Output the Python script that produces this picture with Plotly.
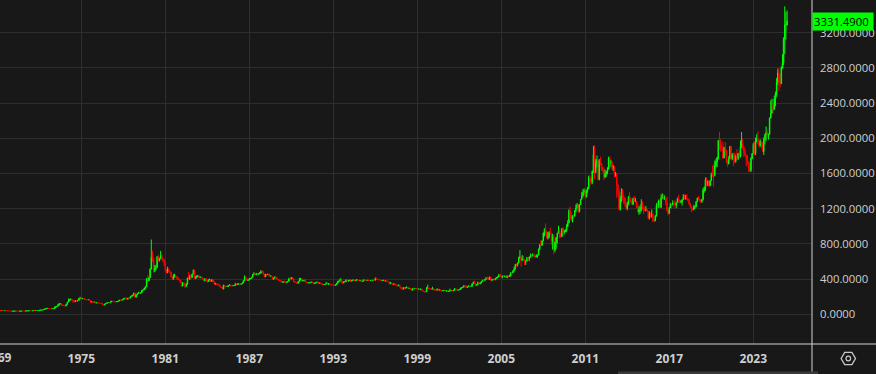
import pandas as pd
import plotly.graph_objects as go

# ---------------- data (monthly gold, USD/oz) ----------------
start_month = "1969-01-01"
first_open = 41.9  # close of the month before the first candle

close_prices = [
    # 1969
    42.6, 42.9, 43.4, 43.3, 43.5, 41.2, 42.3, 41.0, 40.8, 40.0, 36.8, 35.2,
    # 1970
    34.9, 35.0, 35.9, 35.9, 36.0, 35.4, 35.3, 35.4, 36.2, 37.5, 37.4, 37.4,
    # 1971
    38.0, 38.8, 38.9, 39.5, 40.5, 40.1, 41.0, 42.7, 42.0, 42.5, 42.9, 43.5,
    # 1972
    45.8, 48.3, 48.3, 49.0, 54.6, 64.9, 67.0, 67.0, 65.5, 64.9, 62.9, 63.9,
    # 1973
    65.1, 74.2, 84.4, 90.5, 102.0, 120.1, 120.2, 106.8, 103.0, 100.1, 94.8, 112.3,
    # 1974
    139.3, 150.2, 168.4, 172.2, 163.3, 154.1, 143.0, 154.6, 151.8, 158.8, 181.7, 186.5,
    # 1975
    175.8, 181.8, 178.2, 167.0, 167.0, 166.3, 166.7, 159.8, 141.3, 142.9, 138.2, 140.3,
    # 1976
    128.2, 132.3, 129.6, 128.4, 126.8, 123.8, 112.5, 104.0, 116.0, 123.2, 130.3, 134.5,
    # 1977
    132.3, 142.8, 148.9, 147.3, 143.0, 140.8, 144.1, 145.0, 154.1, 161.5, 160.5, 164.95,
    # 1978
    175.3, 182.3, 181.6, 170.9, 184.0, 183.1, 200.3, 208.7, 217.1, 242.6, 193.4, 226.0,
    # 1979
    233.7, 251.3, 240.1, 245.3, 274.6, 277.5, 296.5, 315.1, 397.3, 382.0, 415.7, 512.0,
    # 1980
    653.0, 637.0, 494.5, 518.0, 535.5, 653.5, 614.3, 631.3, 666.8, 629.0, 619.8, 589.8,
    # 1981
    506.5, 489.0, 513.8, 482.8, 479.3, 426.0, 406.0, 425.5, 428.8, 427.0, 414.5, 397.5,
    # 1982
    387.0, 362.6, 320.0, 361.3, 325.3, 317.5, 342.9, 411.5, 397.0, 423.3, 416.8, 456.9,
    # 1983
    499.5, 408.5, 414.8, 429.3, 437.5, 416.0, 422.0, 414.3, 405.0, 382.0, 405.0, 381.5,
    # 1984
    370.8, 394.3, 394.3, 373.8, 393.4, 373.8, 342.4, 348.3, 343.8, 333.5, 329.0, 309.0,
    # 1985
    306.7, 287.8, 329.3, 321.4, 316.8, 317.8, 327.5, 333.3, 326.5, 325.1, 325.3, 326.8,
    # 1986
    345.5, 338.2, 344.0, 345.8, 343.2, 345.5, 357.5, 384.7, 423.2, 401.0, 383.5, 390.9,
    # 1987
    405.9, 407.7, 421.3, 451.0, 456.2, 447.3, 462.5, 456.0, 459.5, 466.0, 492.5, 484.1,
    # 1988
    458.0, 426.2, 456.9, 449.0, 455.5, 436.6, 436.8, 427.8, 397.7, 412.4, 422.6, 410.2,
    # 1989
    394.0, 387.0, 383.2, 377.6, 361.8, 373.0, 368.3, 359.8, 366.5, 375.3, 408.2, 401.0,
    # 1990
    415.1, 407.7, 368.5, 367.8, 363.1, 352.2, 372.3, 387.8, 408.4, 379.5, 384.9, 386.2,
    # 1991
    366.0, 362.7, 355.7, 357.8, 360.4, 368.4, 362.9, 347.4, 354.9, 357.5, 366.3, 353.2,
    # 1992
    354.1, 353.1, 341.7, 336.4, 337.5, 343.4, 357.9, 340.0, 349.0, 339.3, 333.9, 333.3,
    # 1993
    330.5, 327.6, 337.8, 354.3, 377.5, 378.5, 401.8, 371.6, 355.5, 369.6, 370.9, 391.8,
    # 1994
    378.0, 381.6, 389.2, 376.5, 387.6, 388.3, 384.0, 385.8, 394.9, 389.1, 383.1, 383.3,
    # 1995
    374.9, 376.4, 392.0, 389.8, 384.3, 387.1, 383.4, 382.4, 384.0, 382.7, 387.8, 387.0,
    # 1996
    405.6, 400.7, 396.4, 391.3, 390.6, 382.0, 385.3, 386.5, 379.0, 379.5, 371.3, 369.3,
    # 1997
    345.5, 358.6, 348.2, 340.2, 345.6, 334.6, 326.4, 325.4, 332.1, 311.4, 296.8, 290.2,
    # 1998
    304.9, 297.4, 301.0, 310.7, 293.6, 296.3, 288.9, 273.4, 293.9, 292.3, 294.7, 287.8,
    # 1999
    287.1, 287.3, 279.5, 286.6, 268.6, 261.0, 255.6, 254.8, 299.0, 299.1, 291.4, 290.3,
    # 2000
    283.3, 293.7, 276.8, 275.1, 272.3, 288.2, 276.8, 277.0, 273.7, 264.5, 269.1, 272.7,
    # 2001
    264.5, 266.7, 257.7, 263.2, 267.5, 270.6, 265.9, 273.0, 293.1, 278.8, 275.5, 276.5,
    # 2002
    282.3, 296.9, 301.4, 308.2, 326.6, 318.5, 304.7, 312.8, 323.7, 316.9, 319.1, 347.2,
    # 2003
    367.5, 347.5, 334.9, 336.8, 361.4, 346.0, 354.8, 375.6, 388.0, 386.3, 398.4, 416.3,
    # 2004
    399.8, 395.9, 423.7, 388.5, 393.3, 395.8, 391.4, 407.3, 415.7, 425.6, 453.4, 435.6,
    # 2005
    422.2, 435.5, 427.5, 435.7, 414.5, 437.1, 429.0, 433.3, 473.3, 470.8, 495.7, 513.0,
    # 2006
    568.8, 556.0, 582.0, 644.0, 653.0, 613.5, 632.5, 623.5, 599.3, 603.8, 646.7, 632.0,
    # 2007
    650.5, 664.2, 661.8, 677.0, 659.1, 650.5, 665.5, 672.0, 743.0, 789.5, 783.5, 833.8,
    # 2008
    923.3, 971.5, 933.5, 871.0, 885.8, 930.3, 918.0, 833.0, 884.5, 730.8, 814.5, 869.8,
    # 2009
    919.5, 952.0, 916.5, 883.3, 975.5, 934.5, 939.0, 955.5, 995.8, 1040.0, 1175.8, 1087.5,
    # 2010
    1083.0, 1118.5, 1113.3, 1179.3, 1207.5, 1244.0, 1169.0, 1246.0, 1307.0, 1346.8, 1386.0, 1405.5,
    # 2011
    1333.8, 1411.0, 1439.0, 1556.0, 1536.5, 1505.5, 1628.5, 1813.5, 1620.0, 1722.0, 1746.0, 1531.0,
    # 2012
    1744.0, 1711.0, 1662.5, 1651.3, 1558.0, 1598.5, 1622.0, 1648.5, 1776.0, 1719.0, 1726.0, 1657.5,
    # 2013
    1664.8, 1588.5, 1598.3, 1469.0, 1394.5, 1192.0, 1314.5, 1394.8, 1326.5, 1324.0, 1253.0, 1204.5,
    # 2014
    1244.8, 1326.5, 1291.8, 1288.5, 1250.5, 1315.0, 1285.3, 1285.8, 1216.5, 1164.3, 1182.8, 1199.3,
    # 2015
    1260.3, 1214.0, 1187.0, 1180.3, 1189.0, 1171.0, 1098.4, 1135.0, 1114.0, 1142.4, 1061.9, 1060.3,
    # 2016
    1116.4, 1238.0, 1232.7, 1290.5, 1217.8, 1320.8, 1349.0, 1309.3, 1322.5, 1272.0, 1178.1, 1145.9,
    # 2017
    1212.8, 1251.9, 1244.9, 1266.5, 1266.2, 1242.3, 1267.6, 1311.8, 1283.1, 1270.2, 1274.8, 1302.5,
    # 2018
    1339.0, 1317.9, 1325.5, 1315.4, 1298.3, 1250.5, 1223.6, 1201.0, 1191.5, 1214.9, 1222.2, 1279.0,
    # 2019
    1321.0, 1313.2, 1292.3, 1283.5, 1305.6, 1409.0, 1427.6, 1528.4, 1472.9, 1512.9, 1464.1, 1517.3,
    # 2020
    1587.9, 1585.7, 1577.2, 1686.3, 1730.3, 1780.9, 1975.9, 1967.8, 1886.9, 1879.9, 1776.5, 1898.4,
    # 2021
    1847.7, 1734.0, 1707.7, 1768.9, 1906.9, 1770.1, 1814.2, 1813.6, 1742.8, 1783.4, 1774.5, 1828.6,
    # 2022
    1796.6, 1908.9, 1937.4, 1896.9, 1837.7, 1807.3, 1765.9, 1711.0, 1660.6, 1633.6, 1768.5, 1824.0,
    # 2023
    1928.4, 1826.9, 1969.3, 1990.0, 1962.7, 1919.4, 1965.1, 1940.2, 1848.6, 1983.9, 2036.4, 2062.6,
    # 2024
    2039.5, 2044.3, 2229.9, 2286.3, 2327.3, 2326.8, 2447.6, 2503.4, 2634.6, 2744.0, 2643.2, 2624.5,
    # 2025
    2798.4, 2857.8, 3123.6, 3288.7, 3289.3, 3331.49,
]

high_prices = [
    # 1969
    42.8, 43.2, 43.8, 43.6, 43.8, 43.6, 42.6, 42.4, 41.2, 41.0, 40.1, 36.9,
    # 1970
    35.4, 35.2, 36.1, 36.2, 36.3, 36.0, 35.6, 35.6, 36.4, 37.8, 37.7, 37.6,
    # 1971
    38.2, 39.0, 39.2, 39.9, 40.9, 40.6, 41.2, 43.0, 42.8, 42.7, 43.1, 43.7,
    # 1972
    46.3, 49.2, 48.9, 49.8, 56.0, 65.4, 70.0, 68.5, 67.3, 65.8, 65.0, 65.2,
    # 1973
    66.4, 88.0, 90.0, 92.8, 118.0, 126.5, 127.0, 120.3, 107.0, 104.0, 101.0, 112.4,
    # 1974
    139.5, 179.5, 172.5, 179.5, 172.5, 163.3, 155.0, 155.5, 156.3, 158.8, 184.0, 197.5,
    # 1975
    187.0, 184.3, 181.8, 178.3, 172.5, 167.5, 167.3, 166.8, 159.8, 143.3, 144.3, 140.8,
    # 1976
    140.3, 133.0, 133.3, 130.0, 128.5, 127.3, 124.0, 112.8, 117.3, 124.0, 131.3, 134.8,
    # 1977
    136.3, 143.3, 150.0, 150.5, 148.0, 143.3, 145.5, 146.3, 155.5, 164.5, 163.5, 166.0,
    # 1978
    177.0, 186.0, 190.0, 182.0, 184.8, 187.0, 200.3, 215.8, 220.0, 243.7, 245.0, 227.0,
    # 1979
    237.5, 255.0, 252.5, 246.5, 276.0, 281.0, 304.0, 315.1, 412.0, 447.0, 418.0, 524.0,
    # 1980
    850.0, 722.0, 641.0, 560.0, 561.0, 660.0, 676.0, 643.0, 720.0, 679.0, 643.0, 626.0,
    # 1981
    600.0, 510.0, 540.0, 524.0, 496.0, 480.0, 428.0, 456.0, 460.0, 447.0, 431.0, 417.0,
    # 1982
    400.0, 391.0, 364.0, 364.0, 362.0, 330.0, 354.0, 418.0, 481.0, 450.0, 440.0, 457.0,
    # 1983
    509.0, 510.0, 434.0, 445.0, 445.0, 438.0, 430.0, 426.0, 417.0, 406.0, 405.0, 405.0,
    # 1984
    386.0, 394.3, 406.0, 395.0, 397.0, 394.0, 375.0, 357.0, 352.0, 345.0, 350.0, 330.0,
    # 1985
    312.0, 308.0, 338.0, 333.0, 323.0, 318.0, 328.0, 343.0, 335.0, 330.0, 331.0, 330.0,
    # 1986
    358.0, 350.0, 350.0, 348.0, 346.0, 347.0, 359.0, 386.0, 442.8, 432.0, 411.0, 392.0,
    # 1987
    410.0, 412.0, 422.0, 460.0, 479.0, 458.0, 471.0, 468.0, 462.0, 481.0, 499.8, 499.0,
    # 1988
    486.0, 458.0, 458.0, 459.0, 457.0, 462.0, 441.0, 440.0, 429.0, 414.0, 431.0, 424.0,
    # 1989
    411.0, 397.0, 396.0, 386.0, 379.0, 374.0, 383.0, 372.0, 368.0, 378.0, 414.0, 418.0,
    # 1990
    424.0, 421.0, 409.0, 375.0, 373.0, 367.0, 373.0, 416.0, 410.0, 409.0, 389.0, 387.0,
    # 1991
    403.0, 369.0, 364.0, 360.0, 361.0, 370.0, 369.0, 363.0, 356.0, 361.0, 370.0, 367.0,
    # 1992
    358.0, 359.0, 354.0, 342.0, 339.0, 344.0, 363.0, 359.0, 350.0, 350.0, 340.0, 336.0,
    # 1993
    334.0, 331.0, 339.0, 358.0, 379.0, 385.0, 409.0, 406.0, 373.0, 372.0, 381.0, 392.0,
    # 1994
    396.0, 386.0, 392.0, 392.0, 389.0, 395.0, 389.0, 387.0, 398.0, 397.0, 390.0, 384.0,
    # 1995
    384.0, 380.0, 392.0, 396.0, 391.0, 389.0, 388.0, 387.0, 386.0, 386.0, 389.0, 388.0,
    # 1996
    418.0, 416.0, 401.0, 397.0, 395.0, 391.0, 390.0, 389.0, 387.0, 385.0, 383.0, 372.0,
    # 1997
    370.0, 365.0, 360.0, 349.0, 349.0, 346.0, 335.0, 329.0, 337.0, 333.0, 312.0, 300.0,
    # 1998
    308.0, 306.0, 302.0, 314.0, 312.0, 298.0, 297.0, 289.0, 299.0, 302.0, 298.0, 297.0,
    # 1999
    292.0, 290.0, 289.0, 291.0, 290.0, 270.0, 263.0, 258.0, 311.0, 338.0, 300.0, 293.0,
    # 2000
    293.0, 313.0, 294.0, 283.0, 278.0, 293.0, 290.0, 280.0, 278.0, 274.0, 271.0, 276.0,
    # 2001
    273.0, 268.0, 268.0, 264.0, 292.0, 275.0, 271.0, 277.0, 294.0, 294.0, 279.0, 281.0,
    # 2002
    284.0, 302.0, 304.0, 310.0, 327.0, 330.0, 324.0, 315.0, 325.0, 325.0, 320.0, 349.0,
    # 2003
    372.0, 383.0, 355.0, 341.0, 371.0, 366.0, 361.0, 377.0, 390.0, 394.0, 399.0, 417.0,
    # 2004
    427.0, 418.0, 428.0, 427.0, 396.0, 404.0, 409.0, 415.0, 418.0, 433.0, 456.0, 457.0,
    # 2005
    437.0, 438.0, 446.0, 437.0, 437.0, 442.0, 439.0, 449.0, 475.0, 478.0, 497.0, 540.0,
    # 2006
    571.0, 573.0, 587.0, 654.0, 730.0, 660.0, 673.0, 663.0, 627.0, 610.0, 650.0, 650.0,
    # 2007
    656.0, 691.0, 673.0, 693.0, 688.0, 669.0, 683.0, 674.0, 744.0, 795.0, 845.0, 838.0,
    # 2008
    930.0, 975.0, 1032.0, 950.0, 935.0, 945.0, 988.0, 918.0, 915.0, 904.0, 825.0, 880.0,
    # 2009
    927.0, 1006.0, 960.0, 920.0, 981.0, 990.0, 960.0, 966.0, 1024.0, 1070.0, 1195.0, 1226.0,
    # 2010
    1161.0, 1127.0, 1139.0, 1183.0, 1249.0, 1265.0, 1246.0, 1250.0, 1310.0, 1388.0, 1424.0, 1431.0,
    # 2011
    1424.0, 1412.0, 1447.0, 1576.0, 1577.0, 1553.0, 1632.0, 1913.0, 1921.0, 1764.0, 1804.0, 1764.0,
    # 2012
    1764.0, 1791.0, 1720.0, 1677.0, 1670.0, 1641.0, 1628.0, 1671.0, 1790.0, 1798.0, 1755.0, 1727.0,
    # 2013
    1695.0, 1683.0, 1617.0, 1605.0, 1487.0, 1424.0, 1348.0, 1433.0, 1424.0, 1361.0, 1330.0, 1267.0,
    # 2014
    1280.0, 1345.0, 1392.0, 1331.0, 1315.0, 1326.0, 1345.0, 1324.0, 1287.0, 1255.0, 1225.0, 1239.0,
    # 2015
    1307.0, 1284.0, 1224.0, 1224.0, 1232.0, 1205.0, 1175.0, 1170.0, 1157.0, 1191.0, 1143.0, 1088.0,
    # 2016
    1128.0, 1263.0, 1287.0, 1304.0, 1305.0, 1362.0, 1375.0, 1367.0, 1352.0, 1325.0, 1337.0, 1181.0,
    # 2017
    1220.0, 1264.0, 1261.0, 1295.0, 1271.0, 1296.0, 1270.0, 1326.0, 1358.0, 1306.0, 1299.0, 1306.0,
    # 2018
    1366.0, 1361.0, 1356.0, 1366.0, 1317.0, 1309.0, 1266.0, 1225.0, 1214.0, 1243.0, 1238.0, 1284.0,
    # 2019
    1326.0, 1346.0, 1324.0, 1300.0, 1306.0, 1439.0, 1452.0, 1555.0, 1557.0, 1519.0, 1516.0, 1524.0,
    # 2020
    1611.0, 1689.0, 1704.0, 1747.0, 1765.0, 1789.0, 1981.0, 2075.0, 1992.0, 1933.0, 1965.0, 1900.0,
    # 2021
    1959.0, 1871.0, 1755.0, 1798.0, 1913.0, 1916.0, 1832.0, 1834.0, 1836.0, 1814.0, 1877.0, 1831.0,
    # 2022
    1853.0, 1976.0, 2070.0, 1998.0, 1910.0, 1879.0, 1814.0, 1808.0, 1735.0, 1729.0, 1786.0, 1833.0,
    # 2023
    1949.0, 1960.0, 2009.0, 2048.0, 2079.0, 1983.0, 1987.0, 1966.0, 1953.0, 2009.0, 2052.0, 2135.0,
    # 2024
    2088.0, 2052.0, 2236.0, 2431.0, 2450.0, 2388.0, 2484.0, 2531.0, 2686.0, 2790.0, 2801.0, 2726.0,
    # 2025
    2817.0, 2956.0, 3148.0, 3500.0, 3435.0, 3452.0,
]

low_prices = [
    # 1969
    41.6, 42.4, 42.8, 42.9, 43.0, 40.9, 41.0, 40.8, 40.4, 39.8, 36.2, 34.9,
    # 1970
    34.8, 34.8, 34.9, 35.6, 35.7, 35.3, 35.1, 35.2, 35.3, 36.2, 37.1, 37.2,
    # 1971
    37.3, 37.9, 38.6, 38.8, 39.4, 39.9, 40.0, 40.8, 41.9, 41.9, 42.3, 42.8,
    # 1972
    43.4, 45.6, 47.6, 48.2, 49.0, 54.5, 64.5, 65.0, 64.3, 63.9, 62.4, 62.8,
    # 1973
    63.6, 64.8, 74.0, 84.0, 90.0, 102.0, 114.5, 96.0, 97.8, 96.5, 90.0, 92.5,
    # 1974
    112.3, 138.0, 148.5, 162.0, 152.0, 129.0, 139.3, 142.0, 148.5, 146.0, 158.5, 170.0,
    # 1975
    168.0, 172.0, 174.5, 165.3, 160.5, 161.0, 164.5, 149.3, 128.8, 137.3, 136.8, 136.3,
    # 1976
    125.0, 126.3, 126.0, 126.0, 124.5, 122.8, 110.0, 103.0, 104.0, 114.0, 122.0, 129.5,
    # 1977
    129.0, 131.3, 142.0, 145.3, 142.0, 139.8, 140.3, 143.3, 145.0, 153.0, 158.5, 158.0,
    # 1978
    164.0, 174.0, 177.0, 169.0, 169.5, 179.0, 182.0, 197.0, 202.0, 216.0, 193.4, 193.0,
    # 1979
    216.0, 233.0, 236.0, 232.0, 245.0, 270.0, 277.0, 282.0, 315.0, 355.0, 377.0, 412.0,
    # 1980
    512.0, 597.0, 474.0, 478.0, 500.0, 529.0, 602.0, 599.0, 630.0, 620.0, 597.0, 547.0,
    # 1981
    480.0, 460.0, 468.0, 480.0, 460.0, 420.0, 391.0, 392.0, 418.0, 422.0, 392.0, 391.0,
    # 1982
    373.0, 362.0, 310.0, 320.0, 323.0, 296.8, 315.0, 334.0, 395.0, 396.0, 405.0, 416.0,
    # 1983
    455.0, 404.0, 400.0, 411.0, 425.0, 410.0, 415.0, 408.0, 396.0, 375.0, 375.0, 375.0,
    # 1984
    362.0, 368.0, 383.0, 369.0, 370.0, 370.0, 339.0, 340.0, 336.0, 333.0, 325.0, 307.0,
    # 1985
    298.0, 284.0, 284.0, 318.0, 309.0, 310.0, 312.0, 326.0, 315.0, 320.0, 321.0, 320.0,
    # 1986
    326.0, 334.0, 332.0, 336.0, 337.0, 337.0, 343.0, 355.0, 381.0, 400.0, 382.0, 380.0,
    # 1987
    390.0, 396.0, 404.0, 418.0, 445.0, 445.0, 447.0, 450.0, 454.0, 455.0, 464.0, 480.0,
    # 1988
    455.0, 423.0, 425.0, 445.0, 447.0, 436.0, 427.0, 426.0, 395.0, 397.0, 410.0, 408.0,
    # 1989
    392.0, 382.0, 380.0, 375.0, 358.0, 358.0, 366.0, 356.0, 355.0, 364.0, 374.0, 398.0,
    # 1990
    399.0, 400.0, 368.0, 364.0, 359.0, 345.0, 351.0, 371.0, 385.0, 379.0, 376.0, 374.0,
    # 1991
    364.0, 357.0, 352.0, 354.0, 353.0, 359.0, 361.0, 346.0, 346.0, 354.0, 356.0, 352.0,
    # 1992
    350.0, 351.0, 341.0, 335.0, 333.0, 336.0, 343.0, 339.0, 339.0, 338.0, 331.0, 331.0,
    # 1993
    327.0, 326.0, 326.0, 336.0, 354.0, 366.0, 378.0, 355.0, 343.0, 355.0, 367.0, 368.0,
    # 1994
    373.0, 374.0, 380.0, 371.0, 375.0, 382.0, 380.0, 376.0, 384.0, 387.0, 381.0, 375.0,
    # 1995
    373.0, 372.0, 376.0, 388.0, 383.0, 381.0, 381.0, 380.0, 381.0, 381.0, 382.0, 384.0,
    # 1996
    387.0, 397.0, 394.0, 389.0, 389.0, 381.0, 381.0, 385.0, 377.0, 377.0, 370.0, 366.0,
    # 1997
    344.0, 343.0, 345.0, 337.0, 338.0, 334.0, 318.0, 320.0, 320.0, 306.0, 290.0, 283.0,
    # 1998
    278.0, 291.0, 293.0, 299.0, 292.0, 287.0, 287.0, 272.0, 272.0, 289.0, 290.0, 286.0,
    # 1999
    285.0, 285.0, 278.0, 279.0, 268.0, 257.0, 252.0, 251.0, 253.0, 294.0, 289.0, 279.0,
    # 2000
    281.0, 282.0, 276.0, 274.0, 270.0, 272.0, 275.0, 271.0, 270.0, 263.0, 263.0, 267.0,
    # 2001
    263.0, 255.0, 256.0, 255.0, 262.0, 265.0, 265.0, 265.0, 271.0, 277.0, 273.0, 271.0,
    # 2002
    276.0, 281.0, 290.0, 299.0, 307.0, 315.0, 302.0, 301.0, 311.0, 313.0, 315.0, 317.0,
    # 2003
    343.0, 344.0, 322.0, 320.0, 336.0, 342.0, 343.0, 354.0, 374.0, 370.0, 381.0, 398.0,
    # 2004
    397.0, 391.0, 391.0, 384.0, 376.0, 388.0, 389.0, 390.0, 401.0, 413.0, 423.0, 430.0,
    # 2005
    414.0, 410.0, 423.0, 425.0, 414.0, 414.0, 417.0, 428.0, 432.0, 457.0, 467.0, 488.0,
    # 2006
    513.0, 540.0, 544.0, 580.0, 633.0, 543.0, 605.0, 610.0, 560.0, 561.0, 603.0, 610.0,
    # 2007
    603.0, 647.0, 636.0, 661.0, 653.0, 641.0, 650.0, 641.0, 672.0, 727.0, 777.0, 780.0,
    # 2008
    833.0, 885.0, 902.0, 860.0, 850.0, 862.0, 910.0, 786.0, 735.0, 681.0, 705.0, 744.0,
    # 2009
    802.0, 918.0, 864.0, 866.0, 883.0, 915.0, 908.0, 931.0, 933.0, 995.0, 1035.0, 1075.0,
    # 2010
    1058.0, 1045.0, 1087.0, 1112.0, 1156.0, 1203.0, 1155.0, 1157.0, 1242.0, 1306.0, 1331.0, 1360.0,
    # 2011
    1309.0, 1329.0, 1380.0, 1419.0, 1462.0, 1478.0, 1478.0, 1604.0, 1535.0, 1602.0, 1667.0, 1523.0,
    # 2012
    1523.0, 1693.0, 1627.0, 1613.0, 1527.0, 1548.0, 1564.0, 1589.0, 1645.0, 1697.0, 1672.0, 1636.0,
    # 2013
    1626.0, 1555.0, 1564.0, 1321.0, 1338.0, 1180.0, 1180.0, 1271.0, 1291.0, 1251.0, 1221.0, 1187.0,
    # 2014
    1182.0, 1239.0, 1277.0, 1268.0, 1240.0, 1240.0, 1281.0, 1272.0, 1206.0, 1161.0, 1131.0, 1142.0,
    # 2015
    1167.0, 1191.0, 1142.0, 1175.0, 1170.0, 1162.0, 1077.0, 1077.0, 1098.0, 1098.0, 1046.0, 1046.0,
    # 2016
    1060.0, 1110.0, 1208.0, 1208.0, 1200.0, 1208.0, 1310.0, 1302.0, 1301.0, 1241.0, 1171.0, 1123.0,
    # 2017
    1145.0, 1209.0, 1195.0, 1240.0, 1214.0, 1236.0, 1205.0, 1266.0, 1273.0, 1261.0, 1265.0, 1236.0,
    # 2018
    1302.0, 1307.0, 1303.0, 1302.0, 1281.0, 1246.0, 1211.0, 1160.0, 1180.0, 1182.0, 1196.0, 1221.0,
    # 2019
    1275.0, 1303.0, 1281.0, 1266.0, 1266.0, 1296.0, 1381.0, 1400.0, 1459.0, 1458.0, 1445.0, 1455.0,
    # 2020
    1517.0, 1563.0, 1451.0, 1567.0, 1670.0, 1671.0, 1757.0, 1863.0, 1849.0, 1860.0, 1764.0, 1776.0,
    # 2021
    1802.0, 1717.0, 1677.0, 1705.0, 1766.0, 1750.0, 1751.0, 1688.0, 1721.0, 1722.0, 1762.0, 1753.0,
    # 2022
    1780.0, 1780.0, 1890.0, 1872.0, 1787.0, 1805.0, 1681.0, 1710.0, 1615.0, 1617.0, 1616.0, 1765.0,
    # 2023
    1823.0, 1805.0, 1809.0, 1950.0, 1932.0, 1893.0, 1903.0, 1885.0, 1846.0, 1811.0, 1931.0, 1973.0,
    # 2024
    2002.0, 1984.0, 2039.0, 2229.0, 2278.0, 2286.0, 2353.0, 2364.0, 2472.0, 2604.0, 2537.0, 2583.0,
    # 2025
    2614.0, 2790.0, 2832.0, 2957.0, 3121.0, 3280.0,
]

year_ticks = [1969, 1975, 1981, 1987, 1993, 1999, 2005, 2011, 2017, 2023]
price_ticks = [0, 400, 800, 1200, 1600, 2000, 2400, 2800, 3200]
last_price = 3331.49

assert len(close_prices) == len(high_prices) == len(low_prices)

dates = pd.date_range(start_month, periods=len(close_prices), freq="MS")
open_prices = [first_open] + close_prices[:-1]

# ---------------- styling ----------------
BG = "#181818"
GRID = "#2e2e2e"
AXIS = "#d2d2d2"
TXT = "#cfcfcf"
UP = "#00ff00"
DOWN = "#ff0000"
FONT = "Open Sans"

W, H = 876, 374
PW, PH = 812, 344  # plot area size in px


def px(x):
    return x / PW


def py(y):
    return (PH - y) / PH


fig = go.Figure(
    go.Candlestick(
        x=dates,
        open=open_prices,
        high=high_prices,
        low=low_prices,
        close=close_prices,
        increasing=dict(line=dict(color=UP, width=1), fillcolor=UP),
        decreasing=dict(line=dict(color=DOWN, width=1), fillcolor=DOWN),
        whiskerwidth=0,
        showlegend=False,
        hoverinfo="skip",
    )
)

# x range: 1975-01-01 sits 81.3 px from the left, 14 px per year
t75 = pd.Timestamp("1975-01-01")
day_px = 14.0 / 365.25
x_start = t75 - pd.Timedelta(days=81.3 / day_px)
x_end = t75 + pd.Timedelta(days=(PW - 81.3) / day_px)

fig.update_xaxes(
    type="date",
    range=[x_start, x_end],
    tickvals=[pd.Timestamp(f"{y}-01-01") for y in year_ticks],
    ticktext=[str(y) for y in year_ticks],
    showgrid=True,
    gridcolor=GRID,
    gridwidth=1,
    zeroline=False,
    showline=False,
    ticks="",
    ticklabelstandoff=6,
    tickfont=dict(family=FONT, size=12, color=TXT, weight="bold"),
    rangeslider=dict(visible=False),
    fixedrange=True,
    automargin=False,
)

fig.update_yaxes(
    side="right",
    range=[-337.5, 3571.6],
    tickvals=price_ticks,
    tickformat=".4f",
    showgrid=True,
    gridcolor=GRID,
    gridwidth=1,
    zeroline=False,
    showline=False,
    ticks="",
    ticklabelstandoff=7,
    tickfont=dict(family=FONT, size=11.3, color=TXT),
    fixedrange=True,
    automargin=False,
)

shapes = [
    # horizontal separator (full width)
    dict(type="line", xref="paper", yref="paper", x0=0, x1=px(W), y0=0, y1=0,
         line=dict(color=AXIS, width=1)),
    # vertical separator (full height)
    dict(type="line", xref="paper", yref="paper", x0=1, x1=1, y0=py(H + 1), y1=py(-1),
         line=dict(color=AXIS, width=1)),
    # scrollbar hint at bottom
    dict(type="rect", xref="paper", yref="paper", x0=px(618), x1=px(818),
         y0=py(374), y1=py(371.5), fillcolor="#3a3a3a", line=dict(width=0)),
]

# settings (hexagon) icon
cx, cy = 848.3, 358.5
hx, hy = 7.2, 6.2
hexpts = [(cx - hx, cy), (cx - hx / 2, cy - hy), (cx + hx / 2, cy - hy),
          (cx + hx, cy), (cx + hx / 2, cy + hy), (cx - hx / 2, cy + hy)]
path = "M " + " L ".join(f"{px(a):.5f},{py(b):.5f}" for a, b in hexpts) + " Z"
shapes.append(dict(type="path", xref="paper", yref="paper", path=path,
                   line=dict(color="#c8c8c8", width=1.3)))
shapes.append(dict(type="circle", xref="paper", yref="paper",
                   x0=px(cx - 2.3), x1=px(cx + 2.3), y0=py(cy + 2.3), y1=py(cy - 2.3),
                   line=dict(color="#c8c8c8", width=1.2)))

fig.update_layout(
    width=W,
    height=H,
    margin=dict(l=0, r=W - PW, t=0, b=H - PH, pad=0, autoexpand=False),
    paper_bgcolor=BG,
    plot_bgcolor=BG,
    shapes=shapes,
    showlegend=False,
    annotations=[
        dict(
            xref="paper", yref="y", x=1, y=last_price,
            xanchor="left", yanchor="middle",
            text=f"{last_price:.4f}",
            showarrow=False,
            align="left",
            bgcolor=UP,
            font=dict(family=FONT, size=11.3, color="#000000"),
            width=58, height=15, borderpad=1, xshift=0,
        ),
        # first year label, mostly off the left edge as in the reference
        dict(
            xref="paper", yref="paper", x=px(-2.5), y=py(357.5),
            xanchor="center", yanchor="middle",
            text=str(year_ticks[0]),
            showarrow=False,
            font=dict(family=FONT, size=12, color=TXT, weight="bold"),
        ),
    ],
)

fig.write_html(
    "out.html",
    config={"displayModeBar": False},
    post_script="document.body.style.margin='0px';document.body.style.overflow='hidden';"
                "document.body.style.background='#181818';",
)
